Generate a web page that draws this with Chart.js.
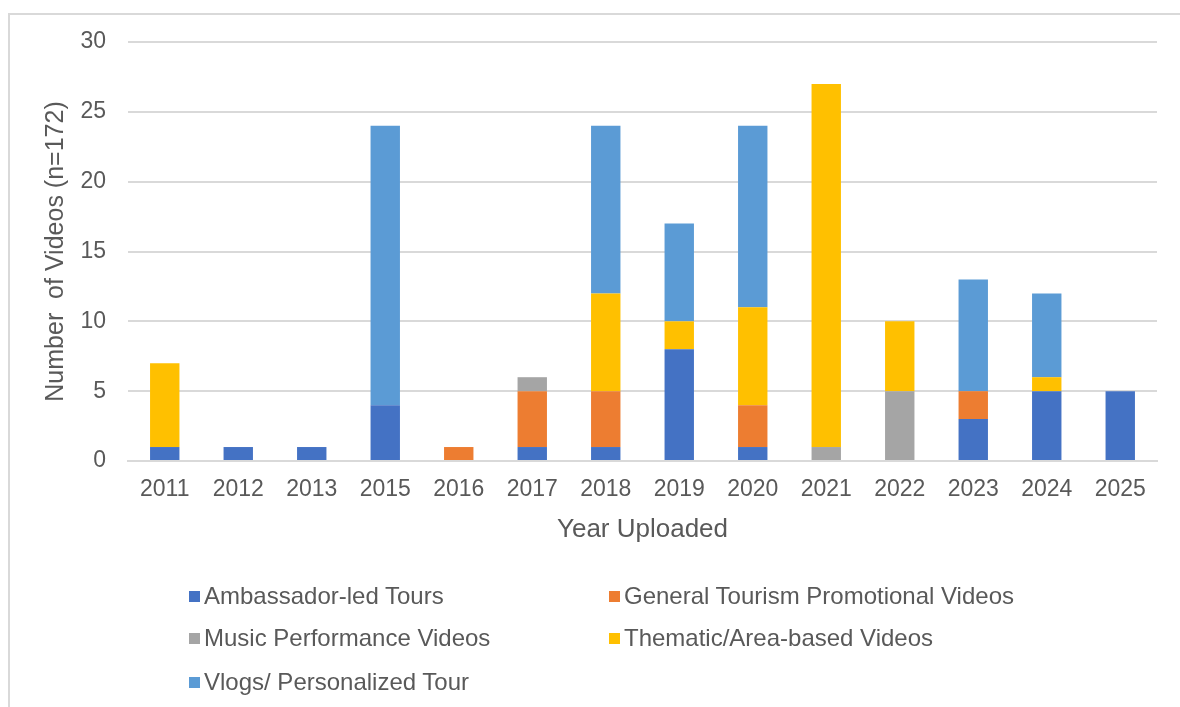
<!DOCTYPE html>
<html>
<head>
<meta charset="utf-8">
<script src="https://cdn.jsdelivr.net/npm/chart.js@4/dist/chart.umd.min.js"></script>
<style>
  html, body { margin: 0; padding: 0; width: 1180px; height: 707px; overflow: hidden; background: #fff; }
  #frame { position: absolute; left: 8px; top: 13px; width: 1200px; height: 720px; border: 2px solid #d9d9d9; box-sizing: border-box; }
  #wrap { position: absolute; left: 0; top: 0; width: 1180px; height: 707px; }
  #legend { position: absolute; left: 0; top: 0; width: 1180px; height: 707px; pointer-events: none;
            font-family: "Liberation Sans", Arial, sans-serif; font-size: 24px; color: #595959; }
  .item { position: absolute; display: flex; align-items: center; white-space: nowrap; }
  .sw { width: 11px; height: 11px; margin-right: 4px; }
</style>
</head>
<body>
<div id="frame"></div>
<div id="wrap"><canvas id="c" width="1180" height="707"></canvas></div>
<div id="legend"></div>
<script>
const categories = ["2011","2012","2013","2015","2016","2017","2018","2019","2020","2021","2022","2023","2024","2025"];
const seriesNames = ["Ambassador-led Tours","General Tourism Promotional Videos","Music Performance Videos","Thematic/Area-based Videos","Vlogs/ Personalized Tour"];
const seriesColors = ["#4472C4","#ED7D31","#A5A5A5","#FFC000","#5B9BD5"];
const ambassador = [1,1,1,4,0,1,1,8,1,0,0,3,5,5];
const general    = [0,0,0,0,1,4,4,0,3,0,0,2,0,0];
const music      = [0,0,0,0,0,1,0,0,0,1,5,0,0,0];
const thematic   = [6,0,0,0,0,0,7,2,7,26,5,0,1,0];
const vlogs      = [0,0,0,20,0,0,12,7,13,0,0,8,6,0];
const yTicks = [0,5,10,15,20,25,30];
const seriesValues = [ambassador, general, music, thematic, vlogs];

const textColor = "#595959";
const fontFamily = '"Liberation Sans", Arial, sans-serif';

const datasets = seriesNames.map((name, i) => ({
  label: name,
  data: seriesValues[i],
  backgroundColor: seriesColors[i],
  borderWidth: 0,
  barPercentage: 0.4,
  categoryPercentage: 1.0,
  stack: "s"
}));

new Chart(document.getElementById("c"), {
  type: "bar",
  data: { labels: categories, datasets },
  options: {
    responsive: false,
    animation: false,
    devicePixelRatio: 1,
    layout: { padding: { left: 0, right: 23, top: 42, bottom: 162 } },
    plugins: { legend: { display: false }, tooltip: { enabled: false } },
    scales: {
      x: {
        stacked: true,
        grid: { display: false, drawTicks: false },
        border: { display: true, color: "#d9d9d9", width: 2 },
        ticks: { color: textColor, font: { family: fontFamily, size: 23 }, padding: 15, maxRotation: 0 },
        title: { display: true, text: "Year Uploaded", color: textColor, font: { family: fontFamily, size: 26 }, padding: { top: 0, bottom: 0 } },
        afterFit: (s) => { s.height = 84; }
      },
      y: {
        stacked: true,
        min: 0, max: 30,
        afterBuildTicks: (s) => { s.ticks = yTicks.map(v => ({ value: v })); },
        grid: { color: "#d9d9d9", lineWidth: 2, drawTicks: false },
        border: { display: false },
        ticks: { color: textColor, font: { family: fontFamily, size: 23 }, padding: 22 },
        title: { display: true, text: "Number  of Videos (n=172)", color: textColor, font: { family: fontFamily, size: 25 }, padding: { top: 41, bottom: 0 } },
        afterFit: (s) => { s.width = 128; }
      }
    }
  }
});

// HTML legend in two columns
const legend = document.getElementById("legend");
const legendPos = [[189,596],[609,596],[189,638],[609,638],[189,682]];
seriesNames.forEach((name, i) => {
  const it = document.createElement("div");
  it.className = "item";
  it.style.left = legendPos[i][0] + "px";
  it.style.top = (legendPos[i][1] - 14) + "px";
  it.style.height = "28px";
  const sw = document.createElement("span");
  sw.className = "sw";
  sw.style.background = seriesColors[i];
  const tx = document.createElement("span");
  tx.textContent = name;
  it.appendChild(sw); it.appendChild(tx);
  legend.appendChild(it);
});
</script>
</body>
</html>
